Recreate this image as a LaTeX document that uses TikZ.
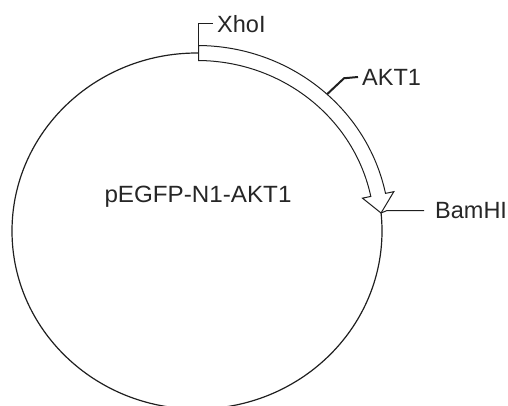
\documentclass[tikz,border=0pt]{standalone}
\usepackage{fontspec}
\setmainfont{Liberation Sans}
\begin{document}
\begin{tikzpicture}[x=1pt,y=1pt,
  lbl/.style={font=\fontsize{23.5}{28}\selectfont, inner sep=0pt, anchor=west, text=black!85},
  ln/.style={line width=1pt, draw=black!88}]
\useasboundingbox (0,0) rectangle (508,405);
\coordinate (c) at (197,174);
\draw[ln, line width=1.2pt] (c) ellipse [x radius=185, y radius=178];
\path (c) ++(89.5:192.5 and 185.5) coordinate (os)
      (c) ++(11.7:201 and 194) coordinate (ho)
      (c) ++(5.8:185 and 178) coordinate (tip)
      (c) ++(11.7:169 and 162) coordinate (hi)
      (c) ++(11.7:177.5 and 170.5) coordinate (ie)
      (c) ++(89.5:177.5 and 170.5) coordinate (xb)
      (c) ++(47.5:192.5 and 185.5) coordinate (ab);
\filldraw[ln, fill=white] (os) arc[start angle=89.5, end angle=11.7, x radius=192.5, y radius=185.5]
  -- (ho) -- (tip) -- (hi) -- (ie)
  arc[start angle=11.7, end angle=89.5, x radius=177.5, y radius=170.5] -- cycle;
\node[lbl, anchor=center, xscale=1.03] (name) at (198,208) {pEGFP-N1-AKT1};
\node[lbl] (xhoi) at (217,381) {XhoI};
\draw[ln] (xb) |- ([xshift=-4pt]xhoi.west);
\node[lbl] (akt) at (362,328) {AKT1};
\draw[ln, line width=2pt] (ab) -- ++(17,16) -- ([xshift=-4pt]akt.west);
\node[lbl] (bam) at (435,194.5) {BamHI};
\draw[ln] (tip) -- ++(6,2.5) -- ([xshift=-11pt]bam.west);
\end{tikzpicture}
\end{document}
